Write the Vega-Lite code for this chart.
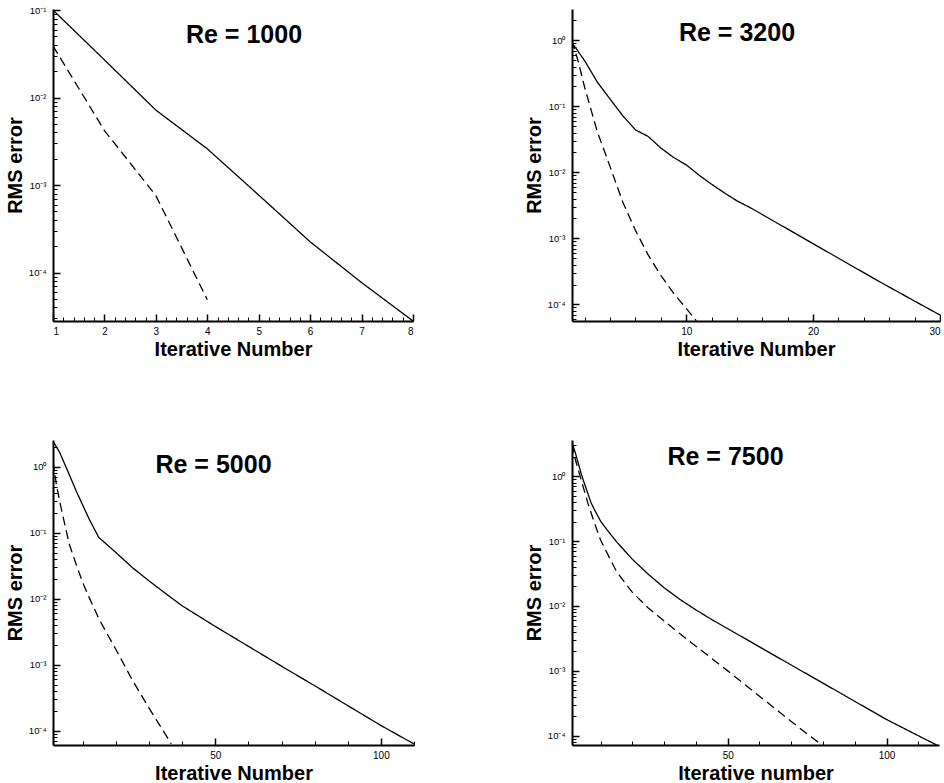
{
  "$schema": "https://vega.github.io/schema/vega-lite/v6.json",
  "background": "white",
  "padding": {"left": 5, "top": 5, "right": 0, "bottom": 0},
  "columns": 2,
  "spacing": {"row": 119, "column": 158},
  "bounds": "flush",
  "config": {
    "view": {"stroke": null},
    "axis": {
      "grid": false,
      "domainColor": "black",
      "domainWidth": 2,
      "tickColor": "black",
      "labelColor": "black",
      "labelFont": "Liberation Sans",
      "labelFontSize": 10,
      "titleFont": "Liberation Sans",
      "titleFontSize": 20,
      "titleFontWeight": "bold",
      "titleColor": "black",
      "labelOverlap": false,
      "labelBound": false
    },
    "axisX": {"labelPadding": 12, "titlePadding": 0},
    "axisY": {"labelPadding": 14, "titlePadding": 3, "labelFontSize": 9.5},
    "title": {
      "font": "Liberation Sans",
      "fontSize": 25,
      "fontWeight": "bold",
      "color": "black",
      "anchor": "middle",
      "frame": "group"
    }
  },
  "concat": [
    {
      "width": 360,
      "height": 312,
      "title": {"text": "Re = 1000", "dx": 11, "offset": -43},
      "data": {"values": [
        {"x": 1, "y": 0.1, "s": "solid"},
        {"x": 2, "y": 0.027, "s": "solid"},
        {"x": 3, "y": 0.0072, "s": "solid"},
        {"x": 4, "y": 0.0026, "s": "solid"},
        {"x": 5, "y": 0.00077, "s": "solid"},
        {"x": 6, "y": 0.000225, "s": "solid"},
        {"x": 7, "y": 0.000077, "s": "solid"},
        {"x": 8, "y": 0.000028, "s": "solid"},
        {"x": 1, "y": 0.039, "s": "dashed"},
        {"x": 2, "y": 0.0042, "s": "dashed"},
        {"x": 3, "y": 0.00076, "s": "dashed"},
        {"x": 4, "y": 0.000049, "s": "dashed"}
      ]},
      "mark": {"type": "line", "color": "black", "strokeWidth": 1.3, "clip": true},
      "encoding": {
        "x": {
          "field": "x", "type": "quantitative",
          "scale": {"domain": [1, 8], "nice": false, "zero": false},
          "axis": {
            "title": "Iterative Number",
            "values": [1,1.2,1.4,1.6,1.8,2,2.2,2.4,2.6,2.8,3,3.2,3.4,3.6,3.8,4,4.2,4.4,4.6,4.8,5,5.2,5.4,5.6,5.8,6,6.2,6.4,6.6,6.8,7,7.2,7.4,7.6,7.8,8],
            "labelExpr": "datum.value == round(datum.value) ? datum.value + '' : ''",
            "tickSize": {"condition": {"test": "datum.value == round(datum.value)", "value": -7}, "value": -4},
            "tickWidth": {"condition": {"test": "datum.value == round(datum.value)", "value": 1.5}, "value": 1}
          }
        },
        "y": {
          "field": "y", "type": "quantitative",
          "scale": {"type": "log", "domain": [0.000028, 0.103], "nice": false},
          "axis": {
            "title": "RMS error",
            "values": [0.00003,0.00004,0.00005,0.00006,0.00007,0.00008,0.00009,0.0001,0.0002,0.0003,0.0004,0.0005,0.0006,0.0007,0.0008,0.0009,0.001,0.002,0.003,0.004,0.005,0.006,0.007,0.008,0.009,0.01,0.02,0.03,0.04,0.05,0.06,0.07,0.08,0.09,0.1],
            "labelExpr": "datum.value == 1 ? '10⁰' : datum.value == 0.1 ? '10⁻¹' : datum.value == 0.01 ? '10⁻²' : datum.value == 0.001 ? '10⁻³' : datum.value == 0.0001 ? '10⁻⁴' : ''",
            "tickSize": {"condition": {"test": "indexof([1,0.1,0.01,0.001,0.0001], datum.value) >= 0", "value": -7}, "value": -4},
            "tickWidth": {"condition": {"test": "indexof([1,0.1,0.01,0.001,0.0001], datum.value) >= 0", "value": 1.5}, "value": 1}
          }
        },
        "strokeDash": {"field": "s", "type": "nominal", "scale": {"domain": ["solid", "dashed"], "range": [[1, 0], [9, 5]]}, "legend": null}
      }
    },
    {
      "width": 368,
      "height": 312,
      "title": {"text": "Re = 3200", "dx": -19, "offset": -37},
      "data": {"values": [
        {"x": 1, "y": 0.92, "s": "solid"},
        {"x": 2, "y": 0.49, "s": "solid"},
        {"x": 3, "y": 0.232, "s": "solid"},
        {"x": 4, "y": 0.129, "s": "solid"},
        {"x": 5, "y": 0.072, "s": "solid"},
        {"x": 6, "y": 0.044, "s": "solid"},
        {"x": 7, "y": 0.035, "s": "solid"},
        {"x": 8, "y": 0.0234, "s": "solid"},
        {"x": 9, "y": 0.0168, "s": "solid"},
        {"x": 10, "y": 0.013, "s": "solid"},
        {"x": 11, "y": 0.0091, "s": "solid"},
        {"x": 12, "y": 0.0066, "s": "solid"},
        {"x": 13, "y": 0.0049, "s": "solid"},
        {"x": 14, "y": 0.0037, "s": "solid"},
        {"x": 15, "y": 0.00295, "s": "solid"},
        {"x": 16, "y": 0.00229, "s": "solid"},
        {"x": 18, "y": 0.00138, "s": "solid"},
        {"x": 20, "y": 0.00083, "s": "solid"},
        {"x": 22, "y": 0.0005, "s": "solid"},
        {"x": 25, "y": 0.000234, "s": "solid"},
        {"x": 28, "y": 0.000112, "s": "solid"},
        {"x": 30, "y": 0.000069, "s": "solid"},
        {"x": 1, "y": 1.0, "s": "dashed"},
        {"x": 1.5, "y": 0.47, "s": "dashed"},
        {"x": 2, "y": 0.193, "s": "dashed"},
        {"x": 3, "y": 0.041, "s": "dashed"},
        {"x": 4, "y": 0.0122, "s": "dashed"},
        {"x": 5, "y": 0.00355, "s": "dashed"},
        {"x": 6, "y": 0.00132, "s": "dashed"},
        {"x": 7, "y": 0.000562, "s": "dashed"},
        {"x": 8, "y": 0.000275, "s": "dashed"},
        {"x": 9, "y": 0.000148, "s": "dashed"},
        {"x": 10, "y": 0.0000871, "s": "dashed"},
        {"x": 10.8, "y": 0.0000562, "s": "dashed"}
      ]},
      "mark": {"type": "line", "color": "black", "strokeWidth": 1.3, "clip": true},
      "encoding": {
        "x": {
          "field": "x", "type": "quantitative",
          "scale": {"domain": [1, 30], "nice": false, "zero": false},
          "axis": {
            "title": "Iterative Number",
            "labelFlush": true,
            "values": [2,4,6,8,10,12,14,16,18,20,22,24,26,28,30],
            "labelExpr": "datum.value % 10 == 0 ? datum.value + '' : ''",
            "tickSize": {"condition": {"test": "datum.value % 10 == 0", "value": -7}, "value": -4},
            "tickWidth": {"condition": {"test": "datum.value % 10 == 0", "value": 1.5}, "value": 1}
          }
        },
        "y": {
          "field": "y", "type": "quantitative",
          "scale": {"type": "log", "domain": [0.000056, 2.98], "nice": false},
          "axis": {
            "title": "RMS error",
            "values": [0.00006,0.00007,0.00008,0.00009,0.0001,0.0002,0.0003,0.0004,0.0005,0.0006,0.0007,0.0008,0.0009,0.001,0.002,0.003,0.004,0.005,0.006,0.007,0.008,0.009,0.01,0.02,0.03,0.04,0.05,0.06,0.07,0.08,0.09,0.1,0.2,0.3,0.4,0.5,0.6,0.7,0.8,0.9,1,2],
            "labelExpr": "datum.value == 1 ? '10⁰' : datum.value == 0.1 ? '10⁻¹' : datum.value == 0.01 ? '10⁻²' : datum.value == 0.001 ? '10⁻³' : datum.value == 0.0001 ? '10⁻⁴' : ''",
            "tickSize": {"condition": {"test": "indexof([1,0.1,0.01,0.001,0.0001], datum.value) >= 0", "value": -7}, "value": -4},
            "tickWidth": {"condition": {"test": "indexof([1,0.1,0.01,0.001,0.0001], datum.value) >= 0", "value": 1.5}, "value": 1}
          }
        },
        "strokeDash": {"field": "s", "type": "nominal", "scale": {"domain": ["solid", "dashed"], "range": [[1, 0], [9, 5]]}, "legend": null}
      }
    },
    {
      "width": 361,
      "height": 305,
      "title": {"text": "Re = 5000", "dx": -20, "offset": -38},
      "data": {"values": [
        {"x": 1, "y": 2.45, "s": "solid"},
        {"x": 3, "y": 1.65, "s": "solid"},
        {"x": 5, "y": 0.97, "s": "solid"},
        {"x": 8, "y": 0.43, "s": "solid"},
        {"x": 10, "y": 0.26, "s": "solid"},
        {"x": 12, "y": 0.158, "s": "solid"},
        {"x": 14.8, "y": 0.085, "s": "solid"},
        {"x": 17, "y": 0.068, "s": "solid"},
        {"x": 20, "y": 0.05, "s": "solid"},
        {"x": 25, "y": 0.0295, "s": "solid"},
        {"x": 30, "y": 0.0186, "s": "solid"},
        {"x": 35, "y": 0.012, "s": "solid"},
        {"x": 40, "y": 0.0078, "s": "solid"},
        {"x": 50, "y": 0.0038, "s": "solid"},
        {"x": 60, "y": 0.0019, "s": "solid"},
        {"x": 70, "y": 0.00095, "s": "solid"},
        {"x": 80, "y": 0.00048, "s": "solid"},
        {"x": 90, "y": 0.00024, "s": "solid"},
        {"x": 100, "y": 0.00012, "s": "solid"},
        {"x": 110, "y": 0.000063, "s": "solid"},
        {"x": 1, "y": 1.2, "s": "dashed"},
        {"x": 2, "y": 0.55, "s": "dashed"},
        {"x": 3, "y": 0.3, "s": "dashed"},
        {"x": 4, "y": 0.178, "s": "dashed"},
        {"x": 5, "y": 0.107, "s": "dashed"},
        {"x": 6, "y": 0.065, "s": "dashed"},
        {"x": 8, "y": 0.033, "s": "dashed"},
        {"x": 10, "y": 0.0174, "s": "dashed"},
        {"x": 12, "y": 0.0102, "s": "dashed"},
        {"x": 15, "y": 0.0048, "s": "dashed"},
        {"x": 20, "y": 0.0017, "s": "dashed"},
        {"x": 25, "y": 0.00058, "s": "dashed"},
        {"x": 30, "y": 0.00022, "s": "dashed"},
        {"x": 35, "y": 0.000087, "s": "dashed"},
        {"x": 36.7, "y": 0.000063, "s": "dashed"}
      ]},
      "mark": {"type": "line", "color": "black", "strokeWidth": 1.3, "clip": true},
      "encoding": {
        "x": {
          "field": "x", "type": "quantitative",
          "scale": {"domain": [1, 110], "nice": false, "zero": false},
          "axis": {
            "title": "Iterative Number",
            "values": [10,20,30,40,50,60,70,80,90,100,110],
            "labelExpr": "datum.value % 50 == 0 ? datum.value + '' : ''",
            "tickSize": {"condition": {"test": "datum.value % 50 == 0", "value": -7}, "value": -4},
            "tickWidth": {"condition": {"test": "datum.value % 50 == 0", "value": 1.5}, "value": 1}
          }
        },
        "y": {
          "field": "y", "type": "quantitative",
          "scale": {"type": "log", "domain": [0.0000607, 2.54], "nice": false},
          "axis": {
            "title": "RMS error",
            "values": [0.00007,0.00008,0.00009,0.0001,0.0002,0.0003,0.0004,0.0005,0.0006,0.0007,0.0008,0.0009,0.001,0.002,0.003,0.004,0.005,0.006,0.007,0.008,0.009,0.01,0.02,0.03,0.04,0.05,0.06,0.07,0.08,0.09,0.1,0.2,0.3,0.4,0.5,0.6,0.7,0.8,0.9,1,2],
            "labelExpr": "datum.value == 1 ? '10⁰' : datum.value == 0.1 ? '10⁻¹' : datum.value == 0.01 ? '10⁻²' : datum.value == 0.001 ? '10⁻³' : datum.value == 0.0001 ? '10⁻⁴' : ''",
            "tickSize": {"condition": {"test": "indexof([1,0.1,0.01,0.001,0.0001], datum.value) >= 0", "value": -7}, "value": -4},
            "tickWidth": {"condition": {"test": "indexof([1,0.1,0.01,0.001,0.0001], datum.value) >= 0", "value": 1.5}, "value": 1}
          }
        },
        "strokeDash": {"field": "s", "type": "nominal", "scale": {"domain": ["solid", "dashed"], "range": [[1, 0], [9, 5]]}, "legend": null}
      }
    },
    {
      "width": 367,
      "height": 305,
      "title": {"text": "Re = 7500", "dx": -30, "offset": -30},
      "data": {"values": [
        {"x": 1, "y": 3.3, "s": "solid"},
        {"x": 2, "y": 2.34, "s": "solid"},
        {"x": 3, "y": 1.57, "s": "solid"},
        {"x": 4, "y": 1.05, "s": "solid"},
        {"x": 5, "y": 0.75, "s": "solid"},
        {"x": 6, "y": 0.54, "s": "solid"},
        {"x": 7, "y": 0.39, "s": "solid"},
        {"x": 8, "y": 0.31, "s": "solid"},
        {"x": 10, "y": 0.203, "s": "solid"},
        {"x": 12, "y": 0.15, "s": "solid"},
        {"x": 15, "y": 0.098, "s": "solid"},
        {"x": 20, "y": 0.0525, "s": "solid"},
        {"x": 25, "y": 0.0309, "s": "solid"},
        {"x": 30, "y": 0.0191, "s": "solid"},
        {"x": 35, "y": 0.0126, "s": "solid"},
        {"x": 40, "y": 0.0087, "s": "solid"},
        {"x": 45, "y": 0.00617, "s": "solid"},
        {"x": 50, "y": 0.00447, "s": "solid"},
        {"x": 55, "y": 0.00324, "s": "solid"},
        {"x": 60, "y": 0.00234, "s": "solid"},
        {"x": 70, "y": 0.00123, "s": "solid"},
        {"x": 80, "y": 0.000646, "s": "solid"},
        {"x": 90, "y": 0.000339, "s": "solid"},
        {"x": 100, "y": 0.000178, "s": "solid"},
        {"x": 110, "y": 0.0001, "s": "solid"},
        {"x": 116.5, "y": 0.000069, "s": "solid"},
        {"x": 1, "y": 3.2, "s": "dashed"},
        {"x": 2, "y": 1.86, "s": "dashed"},
        {"x": 3, "y": 1.24, "s": "dashed"},
        {"x": 4, "y": 0.84, "s": "dashed"},
        {"x": 5, "y": 0.57, "s": "dashed"},
        {"x": 6, "y": 0.385, "s": "dashed"},
        {"x": 8, "y": 0.195, "s": "dashed"},
        {"x": 10, "y": 0.104, "s": "dashed"},
        {"x": 12, "y": 0.066, "s": "dashed"},
        {"x": 15, "y": 0.034, "s": "dashed"},
        {"x": 20, "y": 0.0162, "s": "dashed"},
        {"x": 25, "y": 0.00933, "s": "dashed"},
        {"x": 30, "y": 0.00589, "s": "dashed"},
        {"x": 35, "y": 0.00372, "s": "dashed"},
        {"x": 40, "y": 0.0024, "s": "dashed"},
        {"x": 45, "y": 0.00155, "s": "dashed"},
        {"x": 50, "y": 0.001, "s": "dashed"},
        {"x": 55, "y": 0.000638, "s": "dashed"},
        {"x": 60, "y": 0.000407, "s": "dashed"},
        {"x": 65, "y": 0.00026, "s": "dashed"},
        {"x": 70, "y": 0.000166, "s": "dashed"},
        {"x": 75, "y": 0.000107, "s": "dashed"},
        {"x": 78.5, "y": 0.0000794, "s": "dashed"}
      ]},
      "mark": {"type": "line", "color": "black", "strokeWidth": 1.3, "clip": true},
      "encoding": {
        "x": {
          "field": "x", "type": "quantitative",
          "scale": {"domain": [1, 116.5], "nice": false, "zero": false},
          "axis": {
            "title": "Iterative number",
            "values": [10,20,30,40,50,60,70,80,90,100,110],
            "labelExpr": "datum.value % 50 == 0 ? datum.value + '' : ''",
            "tickSize": {"condition": {"test": "datum.value % 50 == 0", "value": -7}, "value": -4},
            "tickWidth": {"condition": {"test": "datum.value % 50 == 0", "value": 1.5}, "value": 1}
          }
        },
        "y": {
          "field": "y", "type": "quantitative",
          "scale": {"type": "log", "domain": [0.000072, 3.62], "nice": false},
          "axis": {
            "title": "RMS error",
            "values": [0.00008,0.00009,0.0001,0.0002,0.0003,0.0004,0.0005,0.0006,0.0007,0.0008,0.0009,0.001,0.002,0.003,0.004,0.005,0.006,0.007,0.008,0.009,0.01,0.02,0.03,0.04,0.05,0.06,0.07,0.08,0.09,0.1,0.2,0.3,0.4,0.5,0.6,0.7,0.8,0.9,1,2,3],
            "labelExpr": "datum.value == 1 ? '10⁰' : datum.value == 0.1 ? '10⁻¹' : datum.value == 0.01 ? '10⁻²' : datum.value == 0.001 ? '10⁻³' : datum.value == 0.0001 ? '10⁻⁴' : ''",
            "tickSize": {"condition": {"test": "indexof([1,0.1,0.01,0.001,0.0001], datum.value) >= 0", "value": -7}, "value": -4},
            "tickWidth": {"condition": {"test": "indexof([1,0.1,0.01,0.001,0.0001], datum.value) >= 0", "value": 1.5}, "value": 1}
          }
        },
        "strokeDash": {"field": "s", "type": "nominal", "scale": {"domain": ["solid", "dashed"], "range": [[1, 0], [9, 5]]}, "legend": null}
      }
    }
  ]
}
